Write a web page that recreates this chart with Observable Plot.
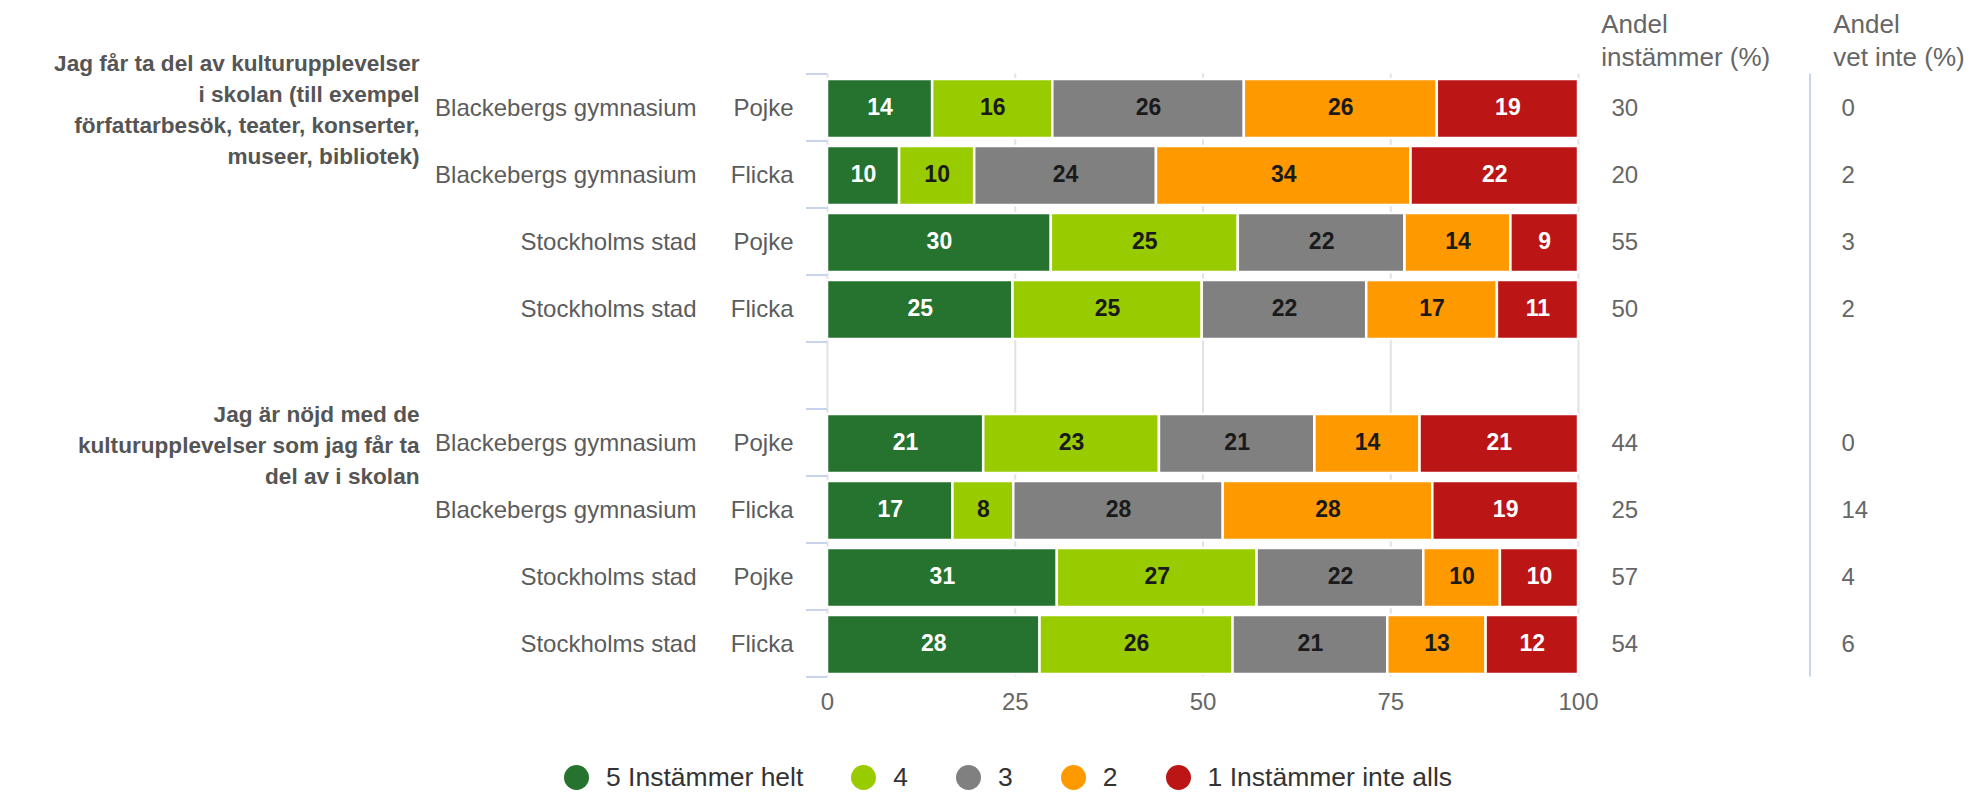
<!DOCTYPE html>
<html><head><meta charset="utf-8">
<script src="https://cdn.jsdelivr.net/npm/d3@7"></script>
<script src="https://cdn.jsdelivr.net/npm/@observablehq/plot@0.6"></script>
<style>
body{margin:0;background:#fff;font-family:"Liberation Sans",Arial,sans-serif;}
#legend{display:flex;align-items:center;height:51px;padding-left:564px;font-size:26.5px;color:#333;}
.item{display:flex;align-items:center;margin-right:48px;white-space:nowrap;}
.sw{width:25px;height:25px;border-radius:50%;margin-right:17px;flex:none;}
</style></head>
<body><div id="chart"></div><div id="legend"></div>
<script>
// ---- data ----
const questions = [
  "Jag får ta del av kulturupplevelser\ni skolan (till exempel\nförfattarbesök, teater, konserter,\nmuseer, bibliotek)",
  "Jag är nöjd med de\nkulturupplevelser som jag får ta\ndel av i skolan"
];
const schools = ["Blackebergs gymnasium", "Blackebergs gymnasium", "Stockholms stad", "Stockholms stad"];
const genders = ["Pojke", "Flicka", "Pojke", "Flicka"];
const levels = ["5 Instämmer helt", "4", "3", "2", "1 Instämmer inte alls"];
const levelColors = ["#26732f", "#99cc00", "#808080", "#ff9900", "#bb1515"];
const labelColors = ["#ffffff", "#1a1a1a", "#1a1a1a", "#1a1a1a", "#ffffff"];
// shares per row (question 1 rows 1-4, question 2 rows 1-4), order: 5,4,3,2,1
const shares = [
  [14.0, 16.0, 25.5, 25.7, 18.8],
  [9.6, 10.0, 24.2, 33.9, 22.3],
  [29.8, 24.9, 22.2, 14.1, 9.0],
  [24.7, 25.2, 21.9, 17.4, 10.8],
  [20.8, 23.4, 20.7, 14.0, 21.1],
  [16.7, 8.1, 27.9, 27.9, 19.4],
  [30.6, 26.6, 22.2, 10.2, 10.4],
  [28.3, 25.7, 20.6, 13.1, 12.3]
];
const andelInstammer = [30, 20, 55, 50, 44, 25, 57, 54];
const andelVetInte = [0, 2, 3, 2, 0, 14, 4, 6];
const headerInstammer = "Andel\ninstämmer (%)";
const headerVetInte = "Andel\nvet inte (%)";
const xTicks = [0, 25, 50, 75, 100];

// ---- build tables ----
const rows = [];
questions.forEach((q, g) => {
  schools.forEach((s, r) => {
    const i = g * 4 + r;
    rows.push({key: `${g}-${r}`, q: r === 0 ? q : null, school: s, gender: genders[r],
      agree: andelInstammer[i], dontKnow: andelVetInte[i], values: shares[i]});
  });
});
const yDomain = [...rows.slice(0, 4).map(d => d.key), "gap", ...rows.slice(4).map(d => d.key)];
const segments = rows.flatMap(r => levels.map((lv, i) => ({
  key: r.key, level: lv, value: r.values[i], color: levelColors[i], textColor: labelColors[i]
})));
const titleRows = rows.filter(d => d.q);

const chart = Plot.plot({
  width: 1973, height: 752,
  marginLeft: 827, marginRight: 395, marginTop: 73.5, marginBottom: 75.5,
  x: {domain: [0, 100], axis: null},
  y: {domain: yDomain, axis: null, padding: 0},
  color: {type: "identity"},
  style: {fontFamily: '"Liberation Sans", Arial, sans-serif', fontSize: "24px", background: "white", color: "#5c5c5c"},
  marks: [
    Plot.ruleX(xTicks, {x: d => d, stroke: "#e2e2e2", strokeWidth: 2}),
    Plot.barX(segments, Plot.stackX({x: "value", y: "key", fill: "color", stroke: "#ffffff", strokeWidth: 2.5, insetTop: 5, insetBottom: 3})),
    Plot.text(segments, Plot.stackX({x: "value", y: "key", text: d => Math.round(d.value), fill: "textColor", fontWeight: "bold", fontSize: 23})),
    Plot.text(xTicks, {x: d => d, text: d => d, frameAnchor: "bottom", dy: 33, fill: "#666", fontSize: 24}),
    Plot.text(rows, {y: "key", text: "gender", frameAnchor: "left", dx: -34, textAnchor: "end", fill: "#5c5c5c", fontSize: 24}),
    Plot.text(rows, {y: "key", text: "school", frameAnchor: "left", dx: -131, textAnchor: "end", fill: "#5c5c5c", fontSize: 24}),
    Plot.text(titleRows, {y: "key", text: "q", frameAnchor: "left", dx: -408, textAnchor: "end", lineHeight: 1.37, fontWeight: "bold", fontSize: 22.6, fill: "#555"}),
    Plot.text(rows, {y: "key", text: "agree", frameAnchor: "right", dx: 33, textAnchor: "start", fill: "#666", fontSize: 24}),
    Plot.text(rows, {y: "key", text: "dontKnow", frameAnchor: "right", dx: 263, textAnchor: "start", fill: "#666", fontSize: 24}),
    Plot.ruleX([100], {x: d => d, dx: 231.5, stroke: "#c8d3ee", strokeWidth: 2}),
    Plot.text([headerInstammer], {text: d => d, frameAnchor: "top-right", dx: 22.7, dy: -63.5, textAnchor: "start", lineAnchor: "top", lineHeight: 1.24, fill: "#666", fontSize: 26}),
    Plot.text([headerVetInte], {text: d => d, frameAnchor: "top-right", dx: 254.7, dy: -63.5, textAnchor: "start", lineAnchor: "top", lineHeight: 1.24, fill: "#666", fontSize: 26})
  ]
});

// category boundary ticks on the y axis, from the plot's own scales
const ys = chart.scale("y"), xs = chart.scale("x");
const x0 = xs.apply(0);
const bounds = new Set();
rows.forEach(r => { const t = ys.apply(r.key); bounds.add(t); bounds.add(t + ys.bandwidth); });
d3.select(chart).append("g").selectAll("line").data([...bounds]).join("line")
  .attr("x1", x0 - 21).attr("x2", x0).attr("y1", d => d).attr("y2", d => d)
  .attr("stroke", "#c8d3ee").attr("stroke-width", 2);

document.getElementById("chart").appendChild(chart);

// legend
const legend = d3.select("#legend");
levels.forEach((lv, i) => {
  const it = legend.append("div").attr("class", "item");
  it.append("span").attr("class", "sw").style("background", levelColors[i]);
  it.append("span").text(lv);
});
</script></body></html>
